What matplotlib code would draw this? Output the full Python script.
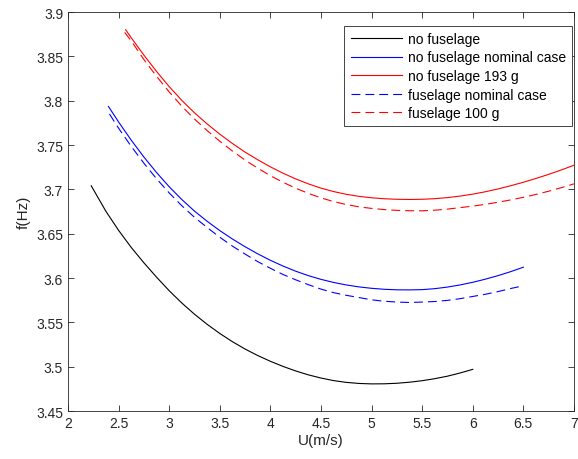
import matplotlib
matplotlib.use("Agg")
import matplotlib.pyplot as plt

plt.rcParams['font.family'] = ['Liberation Sans', 'DejaVu Sans']

# no fuselage
u_nf = [2.23, 2.375, 2.5, 2.625, 2.75, 2.875, 3.0, 3.125, 3.25, 3.375, 3.5, 3.625, 3.75, 3.875,
        4.0, 4.125, 4.25, 4.375, 4.5, 4.625, 4.75, 4.875, 5.0, 5.125, 5.25, 5.375, 5.5, 5.625,
        5.75, 5.875, 6.0]
f_nf = [3.704, 3.6752, 3.6538, 3.6345, 3.6172, 3.601, 3.5857, 3.5718, 3.5592, 3.5478, 3.5375,
        3.5282, 3.5199, 3.5126, 3.5061, 3.5003, 3.4952, 3.4908, 3.4872, 3.4843, 3.4823, 3.4811,
        3.4806, 3.4807, 3.4813, 3.4825, 3.4842, 3.4865, 3.4893, 3.4929, 3.497]

# no fuselage nominal case
u_nf_nom = [2.4, 2.5, 2.625, 2.75, 2.875, 3.0, 3.125, 3.25, 3.375, 3.5, 3.625, 3.75, 3.875,
            4.0, 4.125, 4.25, 4.375, 4.5, 4.625, 4.75, 4.875, 5.0, 5.125, 5.25, 5.375, 5.5,
            5.625, 5.75, 5.875, 6.0, 6.125, 6.25, 6.375, 6.5]
f_nf_nom = [3.7935, 3.776, 3.7555, 3.7365, 3.719, 3.703, 3.6885, 3.6755, 3.664, 3.6535, 3.644,
            3.6353, 3.6273, 3.62, 3.6135, 3.6077, 3.6027, 3.5985, 3.595, 3.5922, 3.59, 3.5884,
            3.5873, 3.5867, 3.5866, 3.5869, 3.588, 3.5898, 3.5922, 3.5952, 3.5987, 3.6027,
            3.6072, 3.6122]

# no fuselage 193 g
u_nf_193 = [2.57, 2.625, 2.75, 2.875, 3.0, 3.125, 3.25, 3.375, 3.5, 3.625, 3.75, 3.875, 4.0,
            4.125, 4.25, 4.375, 4.5, 4.625, 4.75, 4.875, 5.0, 5.125, 5.25, 5.375, 5.5, 5.625,
            5.75, 5.875, 6.0, 6.125, 6.25, 6.375, 6.5, 6.625, 6.75, 6.875, 7.0]
f_nf_193 = [3.880, 3.871, 3.8514, 3.833, 3.8159, 3.8003, 3.7863, 3.7738, 3.7623, 3.7517, 3.742,
            3.7334, 3.7254, 3.7182, 3.7118, 3.7062, 3.7014, 3.6975, 3.6944, 3.6921, 3.6905,
            3.6894, 3.6888, 3.6886, 3.6888, 3.6895, 3.6907, 3.6924, 3.6946, 3.6973, 3.7005,
            3.7041, 3.708, 3.7123, 3.7169, 3.7219, 3.7272]

# fuselage nominal case
u_f_nom = [2.41, 2.5, 2.625, 2.75, 2.875, 3.0, 3.125, 3.25, 3.375, 3.5, 3.625, 3.75, 3.875,
           4.0, 4.125, 4.25, 4.375, 4.5, 4.625, 4.75, 4.875, 5.0, 5.125, 5.25, 5.375, 5.5,
           5.625, 5.75, 5.875, 6.0, 6.125, 6.25, 6.375, 6.5]
f_f_nom = [3.785, 3.769, 3.7485, 3.7295, 3.712, 3.696, 3.6815, 3.6685, 3.657, 3.646, 3.636,
           3.627, 3.6185, 3.611, 3.604, 3.598, 3.5925, 3.5875, 3.5835, 3.5805, 3.578, 3.5754,
           3.5738, 3.5729, 3.5724, 3.5729, 3.5735, 3.5748, 3.5767, 3.5792, 3.5817, 3.5847,
           3.5882, 3.5912]

# fuselage 100 g
u_f_100 = [2.56, 2.625, 2.75, 2.875, 3.0, 3.125, 3.25, 3.375, 3.5, 3.625, 3.75, 3.875, 4.0,
           4.125, 4.25, 4.375, 4.5, 4.625, 4.75, 4.875, 5.0, 5.125, 5.25, 5.375, 5.5, 5.625,
           5.75, 5.875, 6.0, 6.125, 6.25, 6.375, 6.5, 6.625, 6.75, 6.875, 7.0]
f_f_100 = [3.877, 3.8675, 3.8464, 3.8275, 3.8099, 3.7938, 3.7793, 3.7663, 3.7543, 3.7432,
           3.733, 3.7239, 3.7154, 3.708, 3.7013, 3.6955, 3.6904, 3.6862, 3.6829, 3.6803,
           3.6785, 3.6772, 3.6763, 3.6759, 3.6758, 3.6765, 3.6777, 3.6794, 3.6811, 3.6831,
           3.6855, 3.6881, 3.691, 3.6943, 3.6979, 3.7019, 3.7062]

x_ticks = [2, 2.5, 3, 3.5, 4, 4.5, 5, 5.5, 6, 6.5, 7]
y_ticks = [3.45, 3.5, 3.55, 3.6, 3.65, 3.7, 3.75, 3.8, 3.85, 3.9]

fig = plt.figure(figsize=(5.78, 4.6), dpi=100)
ax = fig.add_axes([0.1176, 0.1043, 0.8754, 0.8674])

lw = 0.8
dash = (0, (8, 4.5))
ax.plot(u_nf, f_nf, color='black', lw=lw, label='no fuselage')
ax.plot(u_nf_nom, f_nf_nom, color='#0000ff', lw=lw, label='no fuselage nominal case')
ax.plot(u_nf_193, f_nf_193, color='#ff0000', lw=lw, label='no fuselage 193 g')
ax.plot(u_f_nom, f_f_nom, color='#0000ff', lw=lw, ls=dash, label='fuselage nominal case')
ax.plot(u_f_100, f_f_100, color='#ff0000', lw=lw, ls=dash, label='fuselage 100 g')

ax.set_xlim(2, 7)
ax.set_ylim(3.45, 3.9)
ax.set_xticks(x_ticks)
ax.set_xticklabels(['%g' % v for v in x_ticks])
ax.set_yticks(y_ticks)
ax.set_yticklabels(['%g' % v for v in y_ticks])

ax.tick_params(direction='in', length=4, width=0.6, colors='#262626',
               labelsize=10, top=True, right=True, labeltop=False, labelright=False)
for s in ax.spines.values():
    s.set_color('#262626')
    s.set_linewidth(0.6)

ax.set_xlabel('U(m/s)', fontsize=11, color='#262626', labelpad=2)
ax.set_ylabel('f(Hz)', fontsize=11, color='#262626', labelpad=4)

leg = ax.legend(loc='upper right', bbox_to_anchor=(0.996, 0.966), fontsize=10,
                fancybox=False, framealpha=1, edgecolor='#262626',
                handlelength=3.7, handletextpad=0.4, borderpad=0.45,
                labelspacing=0.33, borderaxespad=0.0)
leg.get_frame().set_linewidth(0.6)

fig.savefig('out.png', dpi=100)
